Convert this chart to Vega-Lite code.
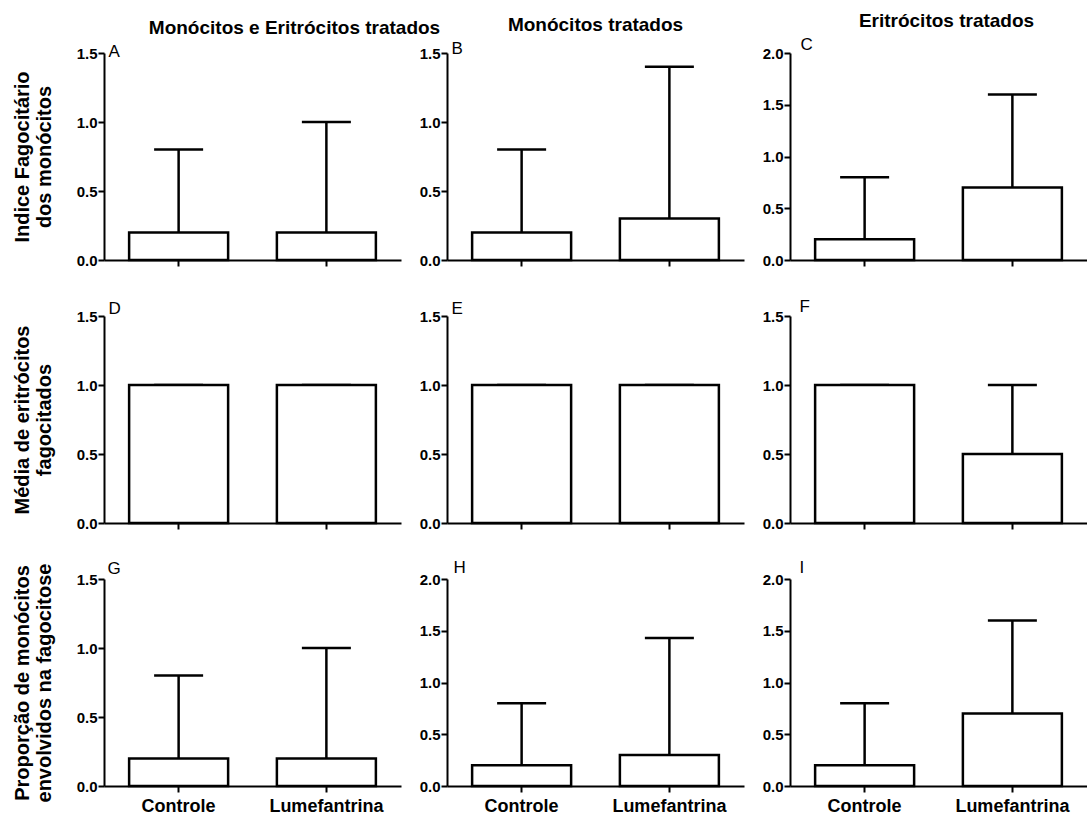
{
"$schema": "https://vega.github.io/schema/vega-lite/v6.json",
"background": "white",
"padding": {"left": 12, "top": 12, "right": 0, "bottom": 4},
"config": {"font": "Liberation Sans", "view": {"stroke": null},
 "axis": {"domainColor": "black", "domainWidth": 2, "tickColor": "black", "tickWidth": 2, "tickSize": 6, "labelColor": "black", "labelFontWeight": "bold", "grid": false, "titleColor": "black"},
 "tick": {"opacity": 1},
 "title": {"color": "black"}},
"datasets": {"d": [
 {"painel": "A", "grupo": "Controle", "media": 0.2, "superior": 0.8},
 {"painel": "A", "grupo": "Lumefantrina", "media": 0.2, "superior": 1.0},
 {"painel": "B", "grupo": "Controle", "media": 0.2, "superior": 0.8},
 {"painel": "B", "grupo": "Lumefantrina", "media": 0.3, "superior": 1.4},
 {"painel": "C", "grupo": "Controle", "media": 0.2, "superior": 0.8},
 {"painel": "C", "grupo": "Lumefantrina", "media": 0.7, "superior": 1.6},
 {"painel": "D", "grupo": "Controle", "media": 1.0, "superior": 1.0},
 {"painel": "D", "grupo": "Lumefantrina", "media": 1.0, "superior": 1.0},
 {"painel": "E", "grupo": "Controle", "media": 1.0, "superior": 1.0},
 {"painel": "E", "grupo": "Lumefantrina", "media": 1.0, "superior": 1.0},
 {"painel": "F", "grupo": "Controle", "media": 1.0, "superior": 1.0},
 {"painel": "F", "grupo": "Lumefantrina", "media": 0.5, "superior": 1.0},
 {"painel": "G", "grupo": "Controle", "media": 0.2, "superior": 0.8},
 {"painel": "G", "grupo": "Lumefantrina", "media": 0.2, "superior": 1.0},
 {"painel": "H", "grupo": "Controle", "media": 0.2, "superior": 0.8},
 {"painel": "H", "grupo": "Lumefantrina", "media": 0.3, "superior": 1.43},
 {"painel": "I", "grupo": "Controle", "media": 0.2, "superior": 0.8},
 {"painel": "I", "grupo": "Lumefantrina", "media": 0.7, "superior": 1.6}
]},
"columns": 3,
"spacing": {"row": 56, "column": 46},
"bounds": "flush",
"concat": [
 {"width": 297, "height": 207,
  "title": {"text": "Monócitos e Eritrócitos tratados", "fontSize": 19, "fontWeight": "bold", "anchor": "middle", "dx": 42, "offset": 4},
  "data": {"name": "d"}, "transform": [{"filter": "datum.painel === 'A'"}],
  "layer": [
   {"mark": {"type": "rule", "color": "black", "strokeWidth": 2.5},
    "encoding": {"x": {"field": "grupo", "type": "nominal", "sort": ["Controle", "Lumefantrina"], "scale": {"paddingInner": 0.33, "paddingOuter": 0.17}, "axis": null},
     "y": {"field": "media", "type": "quantitative", "title": ["Indice Fagocitário", "dos monócitos"]}, "y2": {"field": "superior"}}},
   {"mark": {"type": "tick", "color": "black", "size": 49, "thickness": 2.5},
    "encoding": {"x": {"field": "grupo", "type": "nominal", "sort": ["Controle", "Lumefantrina"], "axis": {"orient": "top", "domain": false, "ticks": false, "labels": false, "title": "A", "titleX": 4, "titleY": 3, "titleAlign": "left", "titleBaseline": "alphabetic", "titleFontSize": 17, "titleFontWeight": "normal"}},
     "y": {"field": "superior", "type": "quantitative", "title": ["Indice Fagocitário", "dos monócitos"]}}},
   {"mark": {"type": "bar", "fill": "white", "stroke": "black", "strokeWidth": 2.5},
    "encoding": {"x": {"field": "grupo", "type": "nominal", "sort": ["Controle", "Lumefantrina"], "axis": {"orient": "bottom", "title": null, "labels": false}},
     "y": {"field": "media", "type": "quantitative", "title": ["Indice Fagocitário", "dos monócitos"], "scale": {"domain": [0, 1.5], "nice": false}, "axis": {"values": [0, 0.5, 1, 1.5], "format": ".1f", "labelFontSize": 15, "labelPadding": 1, "titleFontSize": 20, "titleFontWeight": "bold", "titleLineHeight": 22, "titlePadding": 22}}}}
  ],
  "resolve": {"axis": {"x": "independent"}}},
 {"width": 297, "height": 207,
  "title": {"text": "Monócitos tratados", "fontSize": 19, "fontWeight": "bold", "anchor": "middle", "offset": 4},
  "data": {"name": "d"}, "transform": [{"filter": "datum.painel === 'B'"}],
  "layer": [
   {"mark": {"type": "rule", "color": "black", "strokeWidth": 2.5},
    "encoding": {"x": {"field": "grupo", "type": "nominal", "sort": ["Controle", "Lumefantrina"], "scale": {"paddingInner": 0.33, "paddingOuter": 0.17}, "axis": null},
     "y": {"field": "media", "type": "quantitative", "title": null}, "y2": {"field": "superior"}}},
   {"mark": {"type": "tick", "color": "black", "size": 49, "thickness": 2.5},
    "encoding": {"x": {"field": "grupo", "type": "nominal", "sort": ["Controle", "Lumefantrina"], "axis": {"orient": "top", "domain": false, "ticks": false, "labels": false, "title": "B", "titleX": 4, "titleY": 0, "titleAlign": "left", "titleBaseline": "alphabetic", "titleFontSize": 17, "titleFontWeight": "normal"}},
     "y": {"field": "superior", "type": "quantitative", "title": null}}},
   {"mark": {"type": "bar", "fill": "white", "stroke": "black", "strokeWidth": 2.5},
    "encoding": {"x": {"field": "grupo", "type": "nominal", "sort": ["Controle", "Lumefantrina"], "axis": {"orient": "bottom", "title": null, "labels": false}},
     "y": {"field": "media", "type": "quantitative", "title": null, "scale": {"domain": [0, 1.5], "nice": false}, "axis": {"values": [0, 0.5, 1, 1.5], "format": ".1f", "labelFontSize": 15, "labelPadding": 1}}}}
  ],
  "resolve": {"axis": {"x": "independent"}}},
 {"width": 297, "height": 207,
  "title": {"text": "Eritrócitos tratados", "fontSize": 19, "fontWeight": "bold", "anchor": "middle", "dx": 8, "offset": 4},
  "data": {"name": "d"}, "transform": [{"filter": "datum.painel === 'C'"}],
  "layer": [
   {"mark": {"type": "rule", "color": "black", "strokeWidth": 2.5},
    "encoding": {"x": {"field": "grupo", "type": "nominal", "sort": ["Controle", "Lumefantrina"], "scale": {"paddingInner": 0.33, "paddingOuter": 0.17}, "axis": null},
     "y": {"field": "media", "type": "quantitative", "title": null}, "y2": {"field": "superior"}}},
   {"mark": {"type": "tick", "color": "black", "size": 49, "thickness": 2.5},
    "encoding": {"x": {"field": "grupo", "type": "nominal", "sort": ["Controle", "Lumefantrina"], "axis": {"orient": "top", "domain": false, "ticks": false, "labels": false, "title": "C", "titleX": 10, "titleY": -4, "titleAlign": "left", "titleBaseline": "alphabetic", "titleFontSize": 17, "titleFontWeight": "normal"}},
     "y": {"field": "superior", "type": "quantitative", "title": null}}},
   {"mark": {"type": "bar", "fill": "white", "stroke": "black", "strokeWidth": 2.5},
    "encoding": {"x": {"field": "grupo", "type": "nominal", "sort": ["Controle", "Lumefantrina"], "axis": {"orient": "bottom", "title": null, "labels": false}},
     "y": {"field": "media", "type": "quantitative", "title": null, "scale": {"domain": [0, 2], "nice": false}, "axis": {"values": [0, 0.5, 1, 1.5, 2], "format": ".1f", "labelFontSize": 15, "labelPadding": 1}}}}
  ],
  "resolve": {"axis": {"x": "independent"}}},
 {"width": 297, "height": 207,
  "data": {"name": "d"}, "transform": [{"filter": "datum.painel === 'D'"}],
  "layer": [
   {"mark": {"type": "rule", "color": "black", "strokeWidth": 2.5},
    "encoding": {"x": {"field": "grupo", "type": "nominal", "sort": ["Controle", "Lumefantrina"], "scale": {"paddingInner": 0.33, "paddingOuter": 0.17}, "axis": null},
     "y": {"field": "media", "type": "quantitative", "title": ["Média de eritrócitos", "fagocitados"]}, "y2": {"field": "superior"}}},
   {"mark": {"type": "tick", "color": "black", "size": 49, "thickness": 2.5},
    "encoding": {"x": {"field": "grupo", "type": "nominal", "sort": ["Controle", "Lumefantrina"], "axis": {"orient": "top", "domain": false, "ticks": false, "labels": false, "title": "D", "titleX": 4, "titleY": -3, "titleAlign": "left", "titleBaseline": "alphabetic", "titleFontSize": 17, "titleFontWeight": "normal"}},
     "y": {"field": "superior", "type": "quantitative", "title": ["Média de eritrócitos", "fagocitados"]}}},
   {"mark": {"type": "bar", "fill": "white", "stroke": "black", "strokeWidth": 2.5},
    "encoding": {"x": {"field": "grupo", "type": "nominal", "sort": ["Controle", "Lumefantrina"], "axis": {"orient": "bottom", "title": null, "labels": false}},
     "y": {"field": "media", "type": "quantitative", "title": ["Média de eritrócitos", "fagocitados"], "scale": {"domain": [0, 1.5], "nice": false}, "axis": {"values": [0, 0.5, 1, 1.5], "format": ".1f", "labelFontSize": 15, "labelPadding": 1, "titleFontSize": 20, "titleFontWeight": "bold", "titleLineHeight": 22, "titlePadding": 22}}}}
  ],
  "resolve": {"axis": {"x": "independent"}}},
 {"width": 297, "height": 207,
  "data": {"name": "d"}, "transform": [{"filter": "datum.painel === 'E'"}],
  "layer": [
   {"mark": {"type": "rule", "color": "black", "strokeWidth": 2.5},
    "encoding": {"x": {"field": "grupo", "type": "nominal", "sort": ["Controle", "Lumefantrina"], "scale": {"paddingInner": 0.33, "paddingOuter": 0.17}, "axis": null},
     "y": {"field": "media", "type": "quantitative", "title": null}, "y2": {"field": "superior"}}},
   {"mark": {"type": "tick", "color": "black", "size": 49, "thickness": 2.5},
    "encoding": {"x": {"field": "grupo", "type": "nominal", "sort": ["Controle", "Lumefantrina"], "axis": {"orient": "top", "domain": false, "ticks": false, "labels": false, "title": "E", "titleX": 4, "titleY": -3, "titleAlign": "left", "titleBaseline": "alphabetic", "titleFontSize": 17, "titleFontWeight": "normal"}},
     "y": {"field": "superior", "type": "quantitative", "title": null}}},
   {"mark": {"type": "bar", "fill": "white", "stroke": "black", "strokeWidth": 2.5},
    "encoding": {"x": {"field": "grupo", "type": "nominal", "sort": ["Controle", "Lumefantrina"], "axis": {"orient": "bottom", "title": null, "labels": false}},
     "y": {"field": "media", "type": "quantitative", "title": null, "scale": {"domain": [0, 1.5], "nice": false}, "axis": {"values": [0, 0.5, 1, 1.5], "format": ".1f", "labelFontSize": 15, "labelPadding": 1}}}}
  ],
  "resolve": {"axis": {"x": "independent"}}},
 {"width": 297, "height": 207,
  "data": {"name": "d"}, "transform": [{"filter": "datum.painel === 'F'"}],
  "layer": [
   {"mark": {"type": "rule", "color": "black", "strokeWidth": 2.5},
    "encoding": {"x": {"field": "grupo", "type": "nominal", "sort": ["Controle", "Lumefantrina"], "scale": {"paddingInner": 0.33, "paddingOuter": 0.17}, "axis": null},
     "y": {"field": "media", "type": "quantitative", "title": null}, "y2": {"field": "superior"}}},
   {"mark": {"type": "tick", "color": "black", "size": 49, "thickness": 2.5},
    "encoding": {"x": {"field": "grupo", "type": "nominal", "sort": ["Controle", "Lumefantrina"], "axis": {"orient": "top", "domain": false, "ticks": false, "labels": false, "title": "F", "titleX": 9, "titleY": -5, "titleAlign": "left", "titleBaseline": "alphabetic", "titleFontSize": 17, "titleFontWeight": "normal"}},
     "y": {"field": "superior", "type": "quantitative", "title": null}}},
   {"mark": {"type": "bar", "fill": "white", "stroke": "black", "strokeWidth": 2.5},
    "encoding": {"x": {"field": "grupo", "type": "nominal", "sort": ["Controle", "Lumefantrina"], "axis": {"orient": "bottom", "title": null, "labels": false}},
     "y": {"field": "media", "type": "quantitative", "title": null, "scale": {"domain": [0, 1.5], "nice": false}, "axis": {"values": [0, 0.5, 1, 1.5], "format": ".1f", "labelFontSize": 15, "labelPadding": 1}}}}
  ],
  "resolve": {"axis": {"x": "independent"}}},
 {"width": 297, "height": 207,
  "data": {"name": "d"}, "transform": [{"filter": "datum.painel === 'G'"}],
  "layer": [
   {"mark": {"type": "rule", "color": "black", "strokeWidth": 2.5},
    "encoding": {"x": {"field": "grupo", "type": "nominal", "sort": ["Controle", "Lumefantrina"], "scale": {"paddingInner": 0.33, "paddingOuter": 0.17}, "axis": null},
     "y": {"field": "media", "type": "quantitative", "title": ["Proporção de monócitos", "envolvidos na fagocitose"]}, "y2": {"field": "superior"}}},
   {"mark": {"type": "tick", "color": "black", "size": 49, "thickness": 2.5},
    "encoding": {"x": {"field": "grupo", "type": "nominal", "sort": ["Controle", "Lumefantrina"], "axis": {"orient": "top", "domain": false, "ticks": false, "labels": false, "title": "G", "titleX": 3, "titleY": -6, "titleAlign": "left", "titleBaseline": "alphabetic", "titleFontSize": 17, "titleFontWeight": "normal"}},
     "y": {"field": "superior", "type": "quantitative", "title": ["Proporção de monócitos", "envolvidos na fagocitose"]}}},
   {"mark": {"type": "bar", "fill": "white", "stroke": "black", "strokeWidth": 2.5},
    "encoding": {"x": {"field": "grupo", "type": "nominal", "sort": ["Controle", "Lumefantrina"], "axis": {"orient": "bottom", "title": null, "labels": true, "labelAngle": 0, "labelFontSize": 18, "labelPadding": 5}},
     "y": {"field": "media", "type": "quantitative", "title": ["Proporção de monócitos", "envolvidos na fagocitose"], "scale": {"domain": [0, 1.5], "nice": false}, "axis": {"values": [0, 0.5, 1, 1.5], "format": ".1f", "labelFontSize": 15, "labelPadding": 1, "titleFontSize": 20, "titleFontWeight": "bold", "titleLineHeight": 22, "titlePadding": 22}}}}
  ],
  "resolve": {"axis": {"x": "independent"}}},
 {"width": 297, "height": 207,
  "data": {"name": "d"}, "transform": [{"filter": "datum.painel === 'H'"}],
  "layer": [
   {"mark": {"type": "rule", "color": "black", "strokeWidth": 2.5},
    "encoding": {"x": {"field": "grupo", "type": "nominal", "sort": ["Controle", "Lumefantrina"], "scale": {"paddingInner": 0.33, "paddingOuter": 0.17}, "axis": null},
     "y": {"field": "media", "type": "quantitative", "title": null}, "y2": {"field": "superior"}}},
   {"mark": {"type": "tick", "color": "black", "size": 49, "thickness": 2.5},
    "encoding": {"x": {"field": "grupo", "type": "nominal", "sort": ["Controle", "Lumefantrina"], "axis": {"orient": "top", "domain": false, "ticks": false, "labels": false, "title": "H", "titleX": 6, "titleY": -7, "titleAlign": "left", "titleBaseline": "alphabetic", "titleFontSize": 17, "titleFontWeight": "normal"}},
     "y": {"field": "superior", "type": "quantitative", "title": null}}},
   {"mark": {"type": "bar", "fill": "white", "stroke": "black", "strokeWidth": 2.5},
    "encoding": {"x": {"field": "grupo", "type": "nominal", "sort": ["Controle", "Lumefantrina"], "axis": {"orient": "bottom", "title": null, "labels": true, "labelAngle": 0, "labelFontSize": 18, "labelPadding": 5}},
     "y": {"field": "media", "type": "quantitative", "title": null, "scale": {"domain": [0, 2], "nice": false}, "axis": {"values": [0, 0.5, 1, 1.5, 2], "format": ".1f", "labelFontSize": 15, "labelPadding": 1}}}}
  ],
  "resolve": {"axis": {"x": "independent"}}},
 {"width": 297, "height": 207,
  "data": {"name": "d"}, "transform": [{"filter": "datum.painel === 'I'"}],
  "layer": [
   {"mark": {"type": "rule", "color": "black", "strokeWidth": 2.5},
    "encoding": {"x": {"field": "grupo", "type": "nominal", "sort": ["Controle", "Lumefantrina"], "scale": {"paddingInner": 0.33, "paddingOuter": 0.17}, "axis": null},
     "y": {"field": "media", "type": "quantitative", "title": null}, "y2": {"field": "superior"}}},
   {"mark": {"type": "tick", "color": "black", "size": 49, "thickness": 2.5},
    "encoding": {"x": {"field": "grupo", "type": "nominal", "sort": ["Controle", "Lumefantrina"], "axis": {"orient": "top", "domain": false, "ticks": false, "labels": false, "title": "I", "titleX": 9, "titleY": -7, "titleAlign": "left", "titleBaseline": "alphabetic", "titleFontSize": 17, "titleFontWeight": "normal"}},
     "y": {"field": "superior", "type": "quantitative", "title": null}}},
   {"mark": {"type": "bar", "fill": "white", "stroke": "black", "strokeWidth": 2.5},
    "encoding": {"x": {"field": "grupo", "type": "nominal", "sort": ["Controle", "Lumefantrina"], "axis": {"orient": "bottom", "title": null, "labels": true, "labelAngle": 0, "labelFontSize": 18, "labelPadding": 5}},
     "y": {"field": "media", "type": "quantitative", "title": null, "scale": {"domain": [0, 2], "nice": false}, "axis": {"values": [0, 0.5, 1, 1.5, 2], "format": ".1f", "labelFontSize": 15, "labelPadding": 1}}}}
  ],
  "resolve": {"axis": {"x": "independent"}}}
]
}
